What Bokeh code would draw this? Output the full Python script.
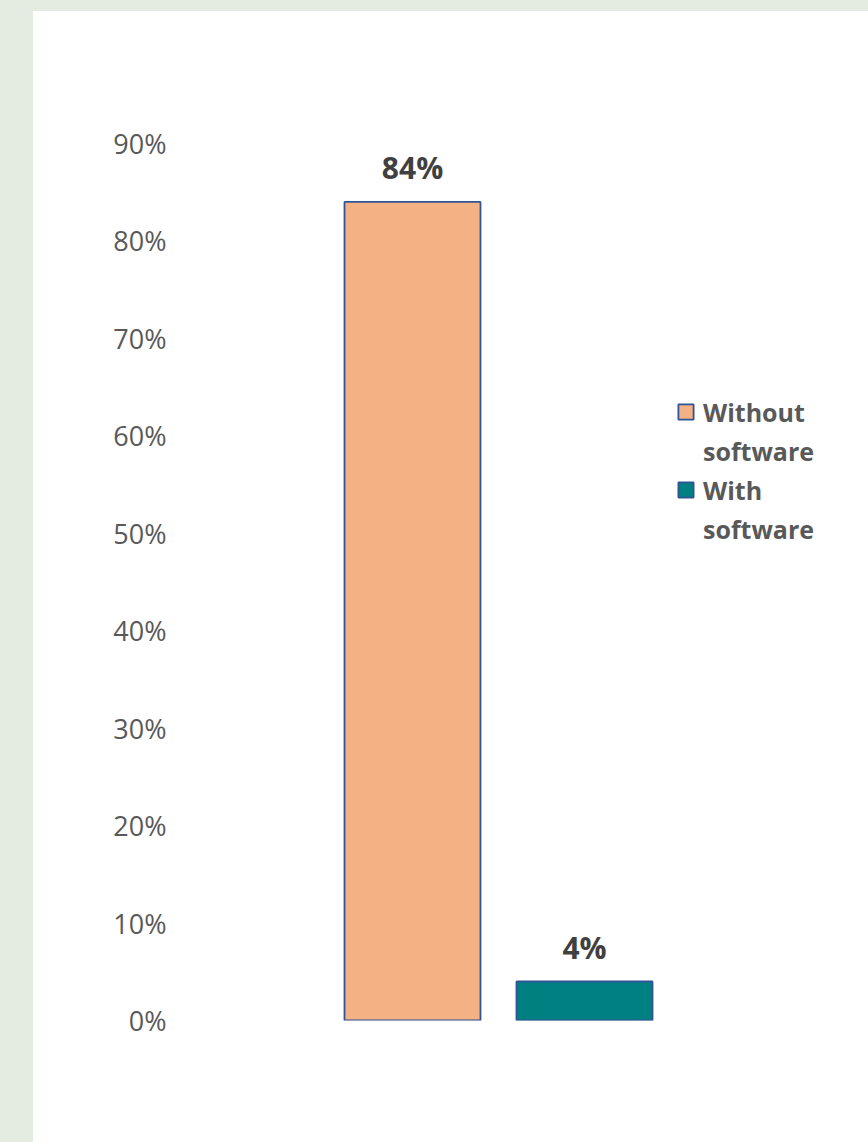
from bokeh.plotting import figure
from bokeh.models import ColumnDataSource, LabelSet, Legend, LegendItem, NumeralTickFormatter, FixedTicker, Range1d
from bokeh.core.properties import value
from bokeh.layouts import column
from bokeh.embed import file_html
from bokeh.resources import INLINE

series = ["Without software", "With software"]
legend_lines = [["Without", "software"], ["With", "software"]]
values = [0.84, 0.04]
value_labels = ["84%", "4%"]
colors = ["#F4B183", "#008080"]
y_ticks = [0.0, 0.1, 0.2, 0.3, 0.4, 0.5, 0.6, 0.7, 0.8, 0.9]

positions = [i + 1 for i in range(len(series))]

src = ColumnDataSource(dict(x=positions, top=values, label=value_labels))

p = figure(width=835, height=1131, output_backend="svg", toolbar_location=None,
           x_range=Range1d(-0.3314, 3.6512), y_range=Range1d(0, 0.9),
           min_border_left=150, min_border_right=0, min_border_top=132, min_border_bottom=122,
           styles={"background-color": "#ffffff"})
p.background_fill_color = None
p.border_fill_color = None
p.outline_line_color = None
p.xgrid.visible = False
p.ygrid.visible = False
p.xaxis.visible = False

yax = p.yaxis[0]
yax.ticker = FixedTicker(ticks=y_ticks)
yax.formatter = NumeralTickFormatter(format="0%")
yax.axis_line_color = None
yax.major_tick_line_color = None
yax.minor_tick_line_color = None
yax.major_tick_out = 0
yax.major_tick_in = 0
yax.major_label_standoff = 17
yax.major_label_text_font = "Open Sans"
yax.major_label_text_font_size = "27px"
yax.major_label_text_color = "#595959"

renderers = []
for i in range(len(series)):
    s = ColumnDataSource(dict(x=[positions[i]], top=[values[i]]))
    r = p.vbar(x="x", top="top", width=0.7907, bottom=0, source=s,
               fill_color=colors[i], line_color="#2F5597", line_width=1.8)
    renderers.append(r)

labels = LabelSet(x="x", y="top", text="label", source=src, y_offset=34,
                  text_align="center", text_baseline="middle",
                  text_font=value("Open Sans"), text_font_style="bold",
                  text_font_size="30px", text_color="#404040")
p.add_layout(labels)

items = []
for i in range(len(series)):
    items.append(LegendItem(label=legend_lines[i][0], renderers=[renderers[i]]))
    for extra in legend_lines[i][1:]:
        items.append(LegendItem(label=extra, renderers=[]))

legend = Legend(items=items,
                location=(493, 472), orientation="vertical",
                background_fill_alpha=0, border_line_color=None,
                label_text_font="Open Sans", label_text_font_style="bold",
                label_text_font_size="25px", label_text_color="#595959",
                glyph_width=19, glyph_height=19, label_standoff=8, spacing=0,
                label_height=39, padding=0, margin=0)
p.add_layout(legend)

layout = column(p, width=868, height=1142,
                styles={"background-color": "#e4ece1", "padding": "11px 0px 0px 33px"})

open("out.html", "w").write(file_html(layout, INLINE))
